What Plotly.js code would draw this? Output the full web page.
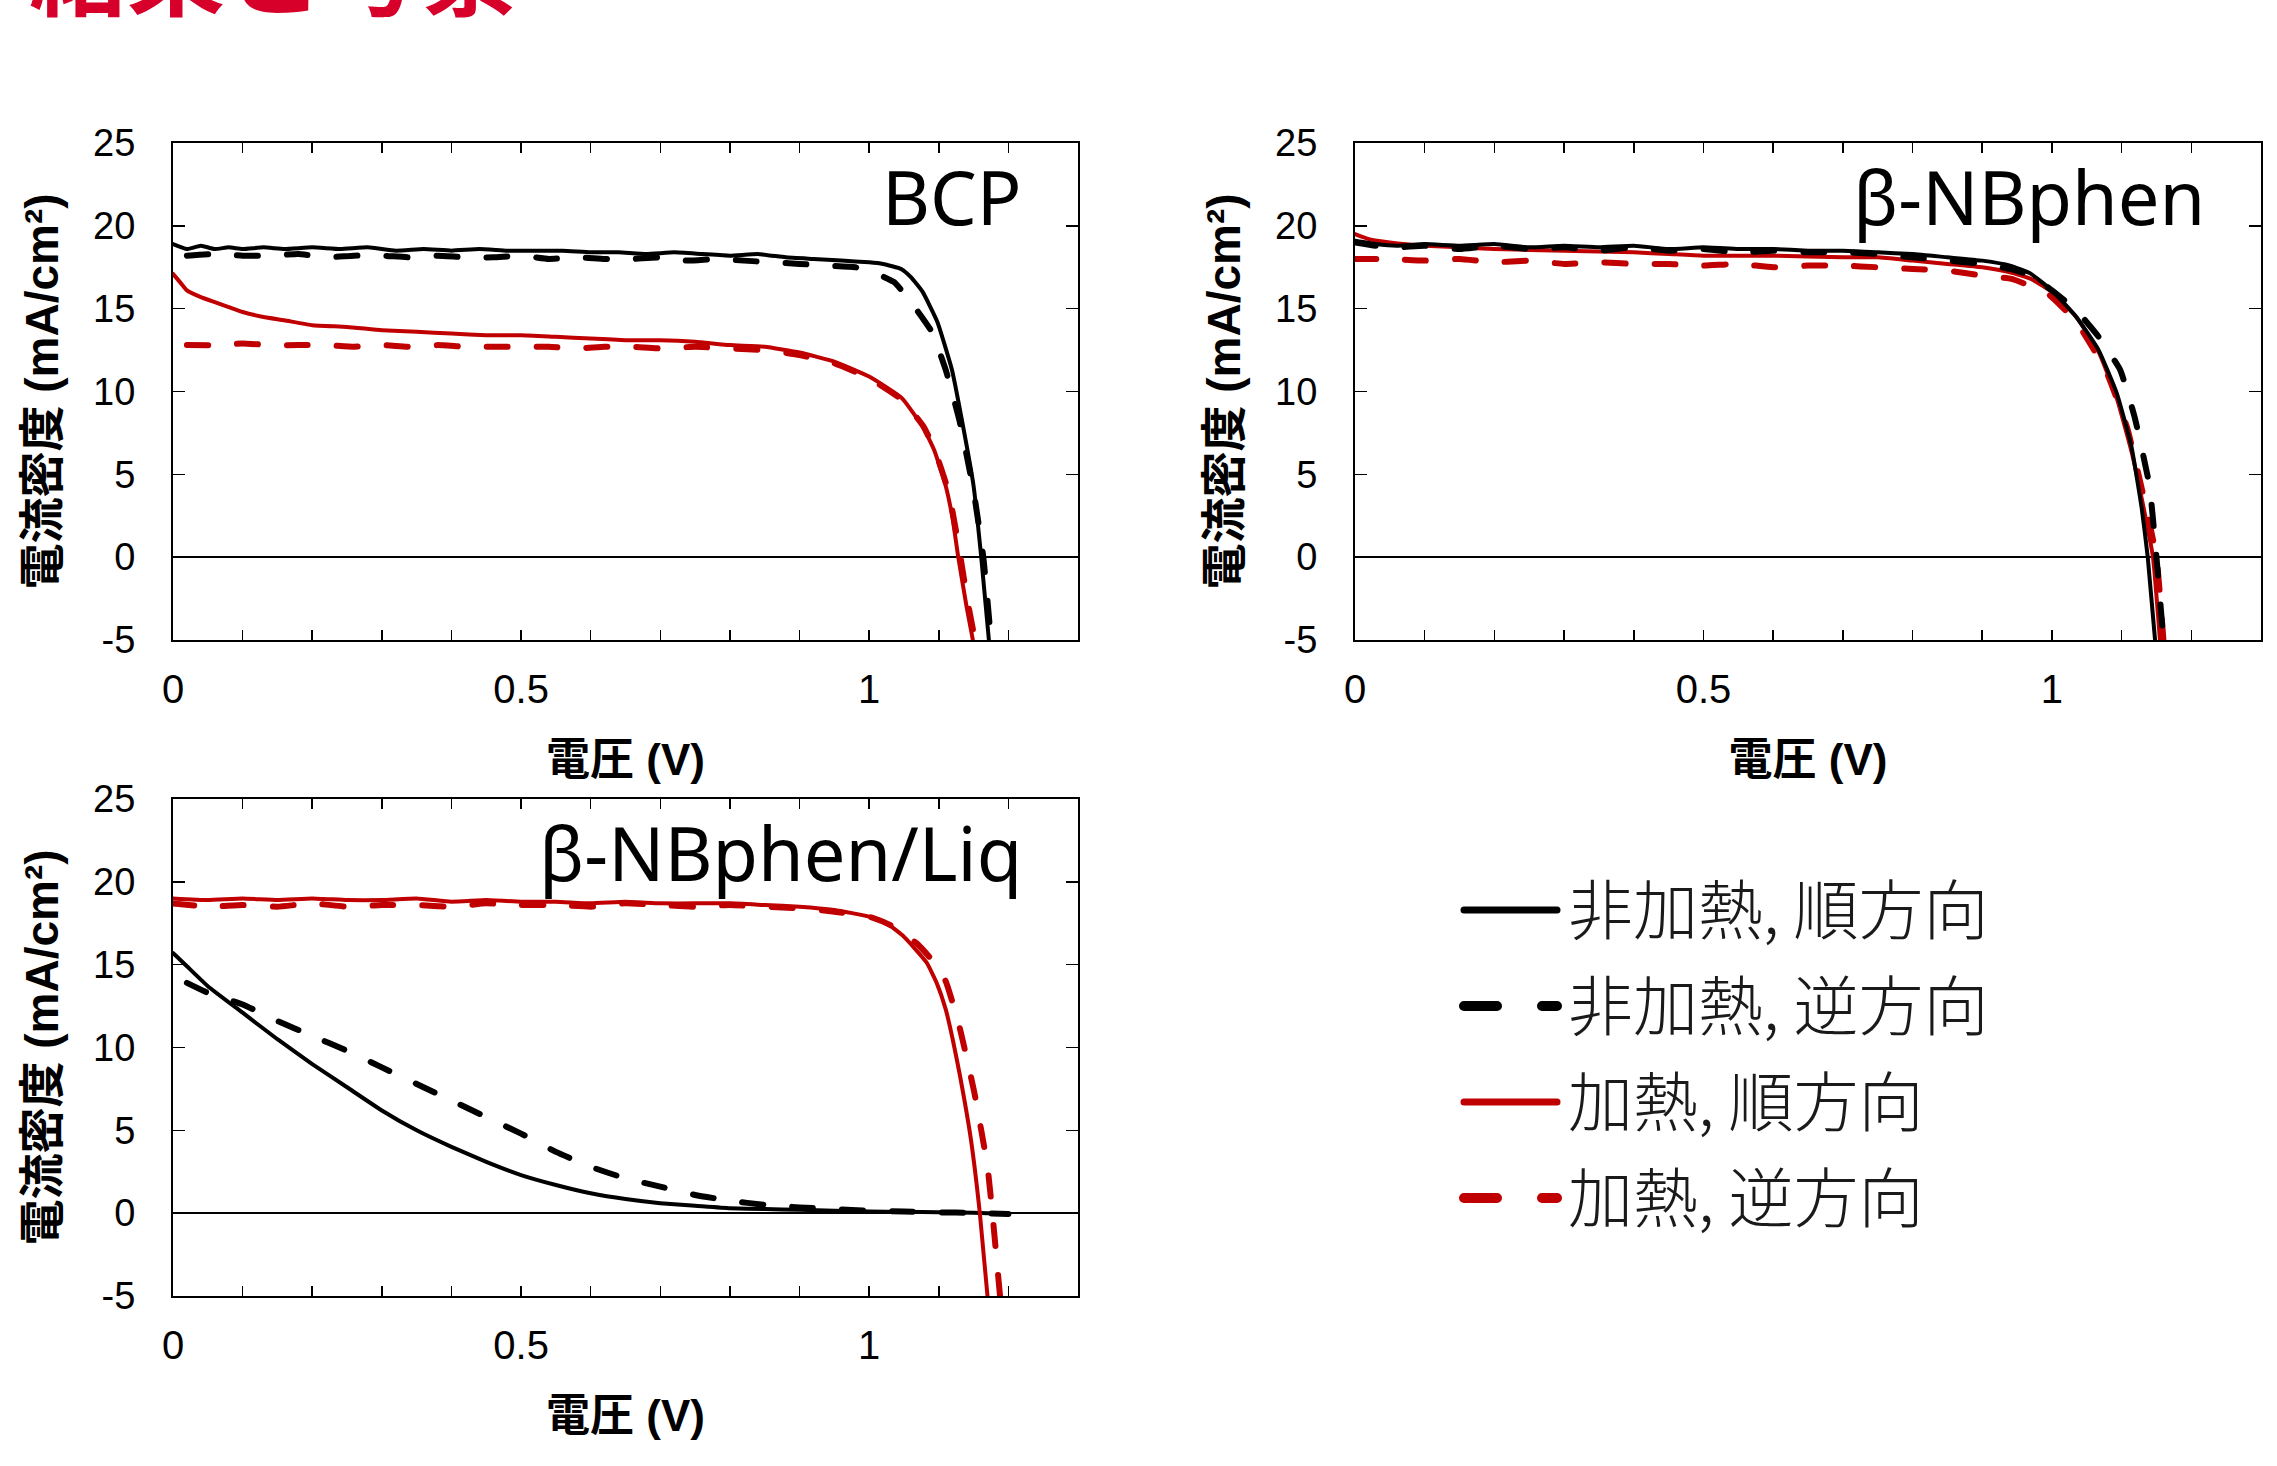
<!DOCTYPE html>
<html>
<head>
<meta charset="utf-8">
<script src="https://cdn.plot.ly/plotly-3.0.1.min.js"></script>
<style>
html,body{margin:0;padding:0;background:#fff;}
#chart{width:2277px;height:1466px;}
.scatterlayer .js-line{stroke-linecap:round;stroke-linejoin:round;}
.shapelayer path{stroke-linecap:round;}
</style>
</head>
<body>
<div id="chart"></div>
<script>
// ---------- Data (voltage V, current density mA/cm2) ----------
// BCP
const bcpUnheatFwdV = [0,0.02,0.04,0.06,0.08,0.1,0.13,0.16,0.2,0.24,0.28,0.32,0.36,0.4,0.44,0.48,0.52,0.56,0.6,0.64,0.68,0.72,0.76,0.8,0.84,0.88,0.92,0.96,1.0,1.02,1.046,1.06,1.077,1.098,1.119,1.134,1.15,1.161,1.172];
const bcpUnheatFwdJ = [18.9,18.6,18.8,18.6,18.7,18.6,18.7,18.6,18.7,18.6,18.7,18.5,18.6,18.5,18.6,18.5,18.5,18.5,18.4,18.4,18.3,18.4,18.3,18.2,18.3,18.1,18.0,17.9,17.8,17.7,17.4,16.9,16.0,14.2,11.3,8.1,4.3,0,-5];
const bcpUnheatRevV = [0.02,0.06,0.1,0.14,0.18,0.22,0.26,0.3,0.34,0.38,0.42,0.46,0.5,0.54,0.58,0.62,0.66,0.7,0.74,0.78,0.82,0.86,0.9,0.94,0.98,1.0,1.036,1.06,1.09,1.11,1.13,1.15,1.164,1.175];
const bcpUnheatRevJ = [18.2,18.3,18.2,18.2,18.3,18.1,18.2,18.2,18.1,18.2,18.1,18.1,18.2,18.0,18.1,18.0,18.0,18.1,17.9,18.0,17.9,17.8,17.7,17.6,17.5,17.3,16.6,15.4,13.6,11.3,8.2,4.0,0,-5];
const bcpHeatFwdV = [0,0.01,0.02,0.04,0.06,0.08,0.1,0.13,0.16,0.2,0.25,0.3,0.35,0.4,0.45,0.5,0.55,0.6,0.65,0.7,0.75,0.8,0.85,0.9,0.95,1.0,1.047,1.078,1.094,1.11,1.12,1.128,1.14,1.149];
const bcpHeatFwdJ = [17.1,16.6,16.1,15.7,15.4,15.1,14.8,14.5,14.3,14.0,13.9,13.7,13.6,13.5,13.4,13.4,13.3,13.2,13.1,13.1,13.0,12.8,12.7,12.35,11.8,10.9,9.6,7.8,6.4,4.3,2.3,0,-3,-5];
const bcpHeatRevV = [0.02,0.06,0.1,0.14,0.18,0.22,0.26,0.3,0.34,0.38,0.42,0.46,0.5,0.54,0.58,0.62,0.66,0.7,0.75,0.8,0.85,0.9,0.95,1.0,1.047,1.078,1.094,1.11,1.12,1.13,1.142,1.152];
const bcpHeatRevJ = [12.8,12.8,12.9,12.8,12.8,12.8,12.7,12.8,12.7,12.8,12.7,12.7,12.7,12.7,12.6,12.7,12.7,12.6,12.7,12.6,12.5,12.2,11.7,10.8,9.5,7.9,6.5,4.5,2.7,0.3,-2.8,-5];
// beta-NBphen
const nbUnheatFwdV = [0,0.03,0.06,0.1,0.15,0.2,0.25,0.3,0.35,0.4,0.45,0.5,0.55,0.6,0.65,0.7,0.75,0.8,0.85,0.9,0.94,0.97,1.0,1.035,1.067,1.093,1.114,1.129,1.1375,1.148];
const nbUnheatFwdJ = [19.1,18.9,18.8,18.9,18.8,18.9,18.7,18.8,18.7,18.8,18.6,18.7,18.6,18.6,18.5,18.5,18.4,18.3,18.1,17.9,17.6,17.1,16.1,14.5,12.5,9.9,6.7,2.9,0,-5];
const nbUnheatRevV = [0,0.03,0.06,0.1,0.15,0.2,0.25,0.3,0.35,0.4,0.45,0.5,0.55,0.6,0.65,0.7,0.75,0.8,0.85,0.9,0.94,0.97,1.0,1.035,1.067,1.098,1.119,1.14,1.15,1.16];
const nbUnheatRevJ = [19.0,18.8,18.7,18.8,18.6,18.8,18.6,18.7,18.5,18.7,18.5,18.6,18.4,18.5,18.4,18.4,18.3,18.1,17.9,17.7,17.4,17.0,16.1,14.9,13.3,11.3,8.4,4.3,0,-5];
const nbHeatFwdV = [0,0.02,0.05,0.1,0.15,0.2,0.3,0.4,0.45,0.5,0.6,0.7,0.75,0.8,0.85,0.9,0.94,0.97,1.0,1.035,1.067,1.093,1.114,1.13,1.145,1.155];
const nbHeatFwdJ = [19.5,19.2,19.0,18.8,18.7,18.6,18.5,18.4,18.3,18.2,18.2,18.1,18.1,17.9,17.7,17.5,17.2,16.8,16.0,14.5,12.4,9.6,6.4,3.3,0,-5];
const nbHeatRevV = [0,0.05,0.1,0.15,0.2,0.25,0.3,0.35,0.4,0.45,0.5,0.55,0.6,0.65,0.7,0.75,0.8,0.85,0.9,0.942,0.994,1.035,1.077,1.108,1.134,1.15,1.16];
const nbHeatRevJ = [18.0,18.0,17.9,18.0,17.8,17.9,17.7,17.8,17.7,17.7,17.6,17.7,17.5,17.6,17.6,17.5,17.4,17.3,17.0,16.8,15.9,14.2,11.3,7.8,3.2,0,-5];
// beta-NBphen/Liq
const liqUnheatFwdV = [0,0.02,0.05,0.1,0.15,0.2,0.25,0.3,0.35,0.4,0.45,0.5,0.55,0.6,0.65,0.7,0.75,0.8,0.85,0.9,0.95,1.0,1.05,1.1,1.15,1.2];
const liqUnheatFwdJ = [15.7,14.9,13.7,12.1,10.5,9.0,7.6,6.2,5.0,4.0,3.1,2.3,1.7,1.2,0.85,0.6,0.45,0.3,0.25,0.2,0.15,0.1,0.08,0.05,0.02,-0.05];
const liqUnheatRevV = [0.02,0.05,0.1,0.15,0.2,0.25,0.3,0.35,0.4,0.45,0.5,0.55,0.6,0.65,0.7,0.75,0.8,0.85,0.9,0.95,1.0,1.05,1.1,1.15,1.2];
const liqUnheatRevJ = [13.9,13.3,12.6,11.6,10.7,9.8,8.8,7.8,6.8,5.8,4.8,3.7,2.8,2.1,1.6,1.1,0.75,0.5,0.35,0.25,0.15,0.1,0.05,0.02,-0.05];
const liqHeatFwdV = [0,0.05,0.1,0.15,0.2,0.25,0.3,0.35,0.4,0.45,0.5,0.55,0.6,0.65,0.7,0.75,0.8,0.85,0.9,0.95,1.0,1.025,1.047,1.065,1.083,1.097,1.11,1.12,1.13,1.146,1.159,1.17];
const liqHeatFwdJ = [19.0,18.9,19.0,18.9,19.0,18.9,18.9,19.0,18.8,18.9,18.8,18.8,18.7,18.8,18.7,18.7,18.7,18.6,18.5,18.3,17.9,17.5,16.8,16.0,15.1,13.9,12.3,10.5,8.4,4.5,0,-5];
const liqHeatRevV = [0,0.05,0.1,0.15,0.2,0.25,0.3,0.35,0.4,0.45,0.5,0.55,0.6,0.65,0.7,0.75,0.8,0.85,0.9,0.95,1.0,1.03,1.068,1.09,1.11,1.13,1.151,1.17,1.177,1.188];
const liqHeatRevJ = [18.7,18.5,18.6,18.5,18.7,18.5,18.6,18.6,18.5,18.7,18.6,18.6,18.5,18.7,18.6,18.5,18.6,18.5,18.4,18.2,17.9,17.4,16.3,15.3,14.0,11.2,7.3,2.8,0,-5];

// ---------- Labels ----------
const seriesNames = ['非加熱, 順方向','非加熱, 逆方向','加熱, 順方向','加熱, 逆方向'];
const panelLabels = ['BCP','β-NBphen','β-NBphen/Liq'];
const xTickVals = [0,0.5,1];
const xTickText = ['0','0.5','1'];
const yTickVals = [-5,0,5,10,15,20,25];
const yTickText = ['-5','0','5','10','15','20','25'];
const xTitle = '電圧 (V)';
const yTitle = '電流密度 (mA/cm²)';
const pageTitle = '結果と考察';

// ---------- Styles ----------
const RED = '#c00000', BLACK = '#000000';
const styles = [
  {color: BLACK, width: 4, dash: 'solid'},
  {color: BLACK, width: 6, dash: '21px,29px'},
  {color: RED, width: 4, dash: 'solid'},
  {color: RED, width: 6, dash: '21px,29px'}
];

const panels = [
  {xa:'x', ya:'y', data:[[bcpUnheatFwdV,bcpUnheatFwdJ],[bcpUnheatRevV,bcpUnheatRevJ],[bcpHeatFwdV,bcpHeatFwdJ],[bcpHeatRevV,bcpHeatRevJ]]},
  {xa:'x2', ya:'y2', data:[[nbUnheatFwdV,nbUnheatFwdJ],[nbUnheatRevV,nbUnheatRevJ],[nbHeatFwdV,nbHeatFwdJ],[nbHeatRevV,nbHeatRevJ]]},
  {xa:'x3', ya:'y3', data:[[liqUnheatFwdV,liqUnheatFwdJ],[liqUnheatRevV,liqUnheatRevJ],[liqHeatFwdV,liqHeatFwdJ],[liqHeatRevV,liqHeatRevJ]]}
];
const traces = [];
panels.forEach((p, pi) => {
  const order = pi === 2 ? [0,1,2,3] : [2,3,0,1];
  order.forEach(si => {
    traces.push({
      type:'scatter', mode:'lines', name: seriesNames[si],
      x: p.data[si][0], y: p.data[si][1],
      xaxis: p.xa, yaxis: p.ya, showlegend:false, hoverinfo:'skip',
      line: {color: styles[si].color, width: styles[si].width, dash: styles[si].dash, shape:'spline', smoothing:0.4}
    });
  });
});

const W = 2277, H = 1466;
const px = v => v / W, py = v => 1 - v / H;

const tickFontX = {family:'Liberation Sans, Arial, sans-serif', size:40, color:'#000'};
const tickFontY = {family:'Liberation Sans, Arial, sans-serif', size:38, color:'#000'};
const titleFont = {family:'Liberation Sans, Arial, Noto Sans CJK JP, sans-serif', size:44, color:'#000', weight:'bold'};
const yTitleFont = {family:'Liberation Sans, Arial, Noto Sans CJK JP, sans-serif', size:46, color:'#000', weight:'bold'};

function xaxis(dom, anchor){
  return {
    domain: dom, anchor: anchor, range:[0,1.3], fixedrange:true,
    tickmode:'array', tickvals:xTickVals, ticktext:xTickText,
    ticks:'inside', ticklen:10, tickwidth:1.5, tickcolor:'#000',
    minor:{dtick:0.1, tick0:0, ticks:'inside', ticklen:10, tickwidth:1.5, tickcolor:'#000', showgrid:false},
    showline:true, linecolor:'#000', linewidth:2, mirror:'ticks',
    showgrid:false, zeroline:false, tickfont:tickFontX, ticklabelstandoff:13,
    title:{text:xTitle, font:titleFont, standoff:34}
  };
}
function yaxis(dom, anchor){
  return {
    domain: dom, anchor: anchor, range:[-5,25], fixedrange:true,
    tickmode:'array', tickvals:yTickVals, ticktext:yTickText,
    ticks:'inside', ticklen:12, tickwidth:1.5, tickcolor:'#000',
    showline:true, linecolor:'#000', linewidth:2, mirror:'ticks',
    showgrid:false, zeroline:true, zerolinecolor:'#000', zerolinewidth:1.5,
    tickfont:tickFontY, ticklabelstandoff:28,
    title:{text:yTitle, font:yTitleFont, standoff:20}
  };
}

const xdomL = [px(173), px(1078)], xdomR = [px(1355), px(2261)];
const ydomT = [py(640), py(143)], ydomB = [py(1296), py(799)];

const annotations = [];
[['x','y'],['x2','y2'],['x3','y3']].forEach((a, i) => {
  annotations.push({
    xref: a[0] + ' domain', yref: a[1] + ' domain', x: 1, y: 1,
    xanchor:'right', yanchor:'top', xshift:-54, yshift:-1,
    text: panelLabels[i], showarrow:false,
    font:{family:'Noto Sans, Open Sans, sans-serif', size:74, color:'#000'}
  });
});
// page title (cut off at the top edge, as in the slide)
annotations.push({
  xref:'paper', yref:'paper', x: px(27), y: py(38), xanchor:'left', yanchor:'bottom',
  text: pageTitle, showarrow:false,
  font:{family:'Noto Sans CJK JP, sans-serif', size:98, color:'#d7002a', weight:'bold'}
});
// legend (drawn manually to match the long sample lines)
const legendRows = [906, 1002, 1098, 1194];
const shapes = [];
legendRows.forEach((r, i) => {
  const st = styles[i];
  const solid = st.dash === 'solid';
  shapes.push({
    type:'line', xref:'paper', yref:'paper', x0: px(1464), x1: px(1557), y0: py(r + 4), y1: py(r + 4),
    line:{color: st.color, width: solid ? 7 : 10, dash: solid ? 'solid' : '33px,45px'}
  });
  annotations.push({
    xref:'paper', yref:'paper', x: px(1566), y: py(r), xanchor:'left', yanchor:'middle',
    text: seriesNames[i], showarrow:false,
    font:{family:'Noto Sans CJK JP, sans-serif', size:65, color:'#1a1a1a', weight:300}
  });
});

const layout = {
  width: W, height: H, margin:{l:0,r:0,t:0,b:0},
  paper_bgcolor:'#fff', plot_bgcolor:'#fff', showlegend:false,
  xaxis: xaxis(xdomL, 'y'), yaxis: yaxis(ydomT, 'x'),
  xaxis2: xaxis(xdomR, 'y2'), yaxis2: yaxis(ydomT, 'x2'),
  xaxis3: xaxis(xdomL, 'y3'), yaxis3: yaxis(ydomB, 'x3'),
  annotations: annotations, shapes: shapes
};

Plotly.newPlot('chart', traces, layout, {staticPlot:true, displayModeBar:false});
</script>
</body>
</html>
